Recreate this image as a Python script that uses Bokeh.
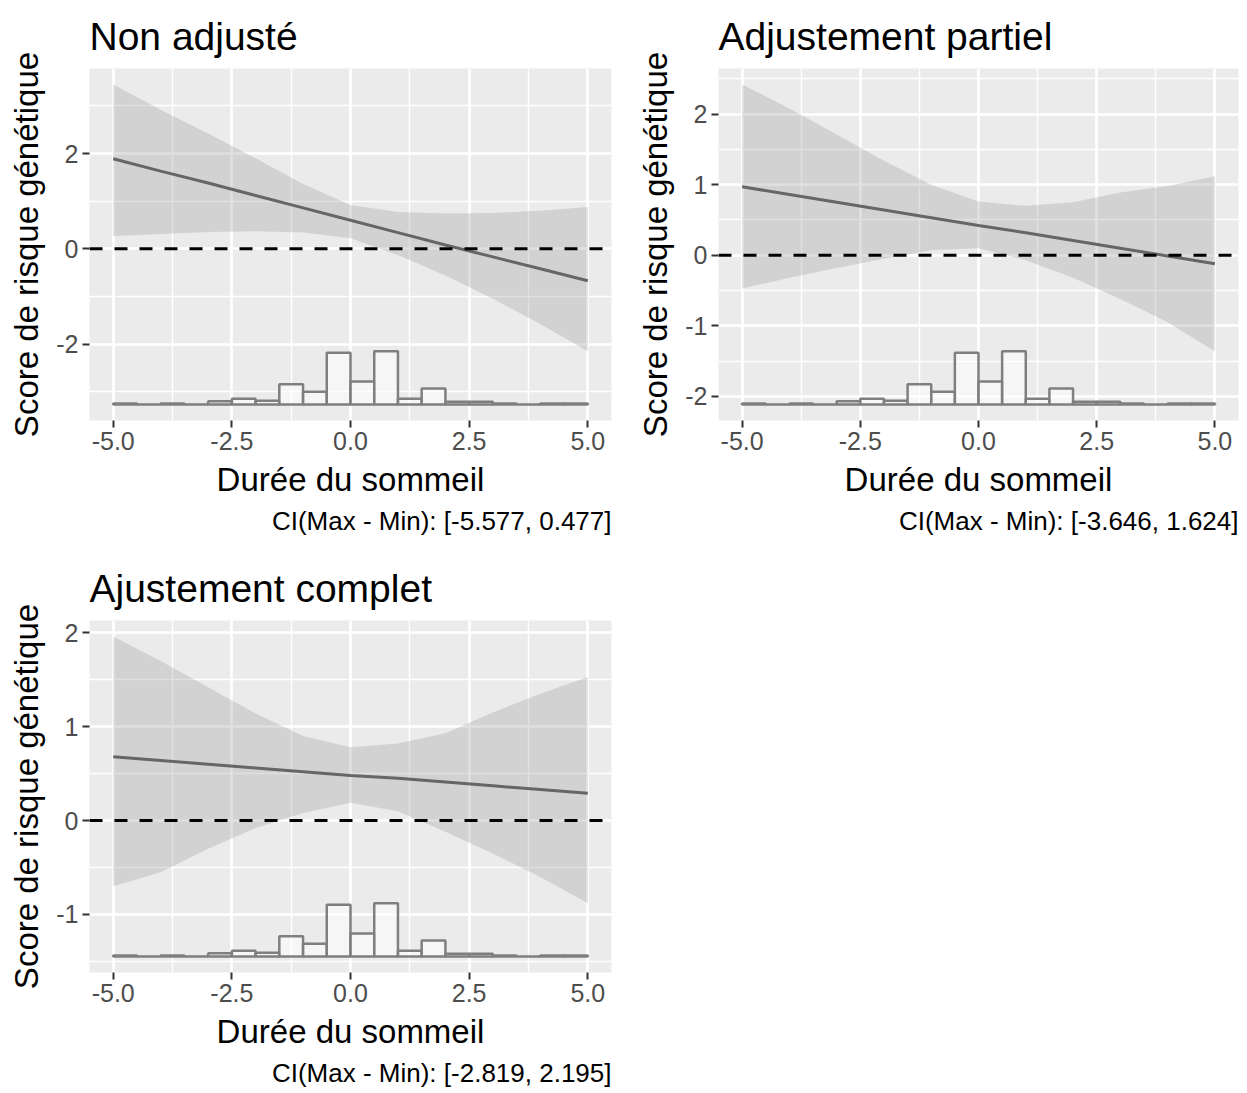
from bokeh.plotting import figure
from bokeh.models import Range1d, FixedTicker, Span, Title, PrintfTickFormatter
from bokeh.layouts import column, row
from bokeh.embed import file_html
from bokeh.resources import INLINE

# ---------------- data ----------------
x_pts = [-5, -4, -3, -2, -1, 0, 1, 2, 3, 4, 5]

titles = ["Non adjusté", "Adjustement partiel", "Ajustement complet"]
captions = ["CI(Max - Min): [-5.577, 0.477]",
            "CI(Max - Min): [-3.646, 1.624]",
            "CI(Max - Min): [-2.819, 2.195]"]
x_label = "Durée du sommeil"
y_label = "Score de risque génétique"

fit_nonadj = [1.89, 1.63, 1.38, 1.12, 0.86, 0.60, 0.34, 0.08, -0.17, -0.42, -0.67]
upper_nonadj = [3.45, 2.92, 2.42, 1.90, 1.36, 0.92, 0.77, 0.74, 0.75, 0.80, 0.88]
lower_nonadj = [0.27, 0.31, 0.35, 0.37, 0.34, 0.22, -0.13, -0.56, -1.05, -1.58, -2.15]

fit_partial = [0.97, 0.86, 0.75, 0.64, 0.53, 0.42, 0.32, 0.21, 0.10, -0.01, -0.12]
upper_partial = [2.42, 2.08, 1.71, 1.34, 1.00, 0.76, 0.70, 0.75, 0.89, 0.98, 1.12]
lower_partial = [-0.47, -0.32, -0.18, -0.05, 0.07, 0.10, -0.07, -0.32, -0.62, -0.95, -1.36]

fit_full = [0.68, 0.64, 0.60, 0.56, 0.52, 0.48, 0.45, 0.41, 0.37, 0.33, 0.29]
upper_full = [1.96, 1.70, 1.42, 1.14, 0.90, 0.78, 0.82, 0.93, 1.15, 1.35, 1.53]
lower_full = [-0.70, -0.55, -0.30, -0.08, 0.08, 0.19, 0.10, -0.12, -0.35, -0.60, -0.88]

hist_edges = [-5.0, -4.5, -4.0, -3.5, -3.0, -2.5, -2.0, -1.5, -1.0, -0.5, 0.0,
              0.5, 1.0, 1.5, 2.0, 2.5, 3.0, 3.5, 4.0, 4.5, 5.0]
hist_counts = [2, 0, 2, 0, 6, 11, 7, 38, 24, 97, 43, 100, 11, 30, 5, 5, 2, 0, 2, 2]

x_major = [-5, -2.5, 0, 2.5, 5]
x_minor = [-3.75, -1.25, 1.25, 3.75]
y_major_nonadj = [-2, 0, 2]
y_minor_nonadj = [-3, -1, 1, 3]
y_major_partial = [-2, -1, 0, 1, 2]
y_minor_partial = [-1.5, -0.5, 0.5, 1.5, 2.5]
y_major_full = [-1, 0, 1, 2]
y_minor_full = [-1.5, -0.5, 0.5, 1.5]

FONT = "Liberation Sans"


def make_panel(title, caption, fit, upper, lower, y_major, y_minor,
               width, height, border_left, border_right):
    lo = min(lower)
    hi = max(upper)
    span = hi - lo
    hist_base = lo - 0.2 * span
    cmax = max(hist_counts)
    tops = [hist_base + 0.2 * span * c / cmax for c in hist_counts]
    ymin, ymax = hist_base, hi
    pad = 0.05 * (ymax - ymin)

    plot_h = 352
    p = figure(width=width, height=height,
               x_range=Range1d(-5.5, 5.5), y_range=Range1d(ymin - pad, ymax + pad),
               output_backend="svg", toolbar_location=None,
               min_border_left=border_left, min_border_right=border_right,
               min_border_top=68, min_border_bottom=height - 68 - plot_h)
    p.background_fill_color = "#EBEBEB"
    p.border_fill_color = "white"
    p.outline_line_color = None

    xt = FixedTicker(ticks=x_major, minor_ticks=x_minor)
    yt = FixedTicker(ticks=y_major, minor_ticks=y_minor)
    p.xaxis.ticker = xt
    p.xgrid.ticker = xt
    p.yaxis.ticker = yt
    p.ygrid.ticker = yt
    p.xaxis.formatter = PrintfTickFormatter(format="%.1f")
    p.yaxis.formatter = PrintfTickFormatter(format="%d")

    for g in (p.xgrid, p.ygrid):
        g.grid_line_color = "white"
        g.grid_line_width = 2.7
        g.minor_grid_line_color = "white"
        g.minor_grid_line_width = 1.4

    p.axis.axis_line_color = None
    p.axis.major_tick_line_color = "#333333"
    p.axis.major_tick_line_width = 2
    p.axis.major_tick_out = 7
    p.axis.major_tick_in = 0
    p.axis.minor_tick_line_color = None
    p.axis.major_label_text_font = FONT
    p.axis.major_label_text_font_size = "25px"
    p.axis.major_label_text_color = "#4D4D4D"
    p.axis.major_label_standoff = 4
    p.axis.axis_label_text_font = FONT
    p.axis.axis_label_text_font_size = "33px"
    p.axis.axis_label_text_font_style = "normal"
    p.axis.axis_label_text_color = "black"
    p.axis.axis_label_standoff = 8
    p.xaxis.axis_label = x_label
    p.yaxis.axis_label = y_label

    p.title.text = title
    p.title.text_font = FONT
    p.title.text_font_size = "39px"
    p.title.text_font_style = "normal"
    p.title.text_color = "black"
    p.title.align = "left"
    p.title.standoff = 22

    cap = Title(text=caption, align="right", text_font=FONT, text_font_size="26px",
                text_font_style="normal", text_color="black", standoff=6)
    p.add_layout(cap, "below")

    # ribbon
    p.varea(x=x_pts, y1=lower, y2=upper, fill_color="#999999", fill_alpha=0.3)
    # histogram
    p.quad(left=hist_edges[:-1], right=hist_edges[1:], bottom=[hist_base] * len(hist_counts),
           top=tops, fill_color="white", fill_alpha=0.55,
           line_color="#7F7F7F", line_width=2.5)
    # zero reference
    p.add_layout(Span(location=0, dimension="width", line_color="black",
                      line_width=3, line_dash="13 12"))
    # fitted line
    p.line(x_pts, fit, line_color="#666666", line_width=3)
    return p


p1 = make_panel(titles[0], captions[0], fit_nonadj, upper_nonadj, lower_nonadj,
                y_major_nonadj, y_minor_nonadj, 628, 552, 89, 17)
p2 = make_panel(titles[1], captions[1], fit_partial, upper_partial, lower_partial,
                y_major_partial, y_minor_partial, 619, 552, 90, 9)
p3 = make_panel(titles[2], captions[2], fit_full, upper_full, lower_full,
                y_major_full, y_minor_full, 628, 541, 89, 17)

layout = column(row(p1, p2), p3)
open("out.html", "w").write(file_html(layout, INLINE))
